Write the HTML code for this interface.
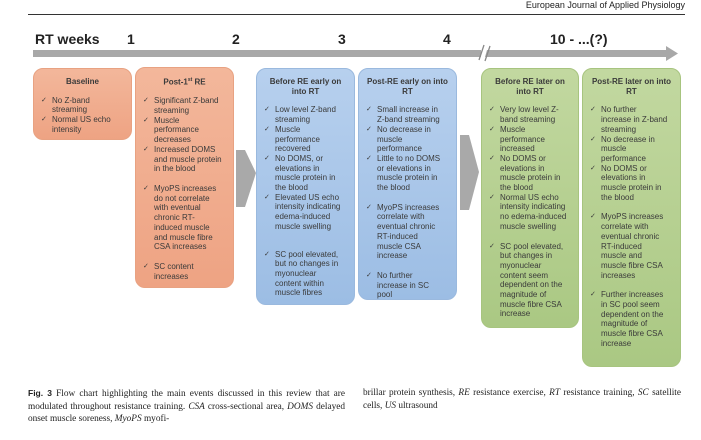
<!DOCTYPE html>
<html><head><style>
body{margin:0;width:701px;height:440px;background:#fff;position:relative;overflow:hidden;font-family:"Liberation Sans",sans-serif}
.a{position:absolute}
.box{position:absolute;border-radius:10px;box-sizing:border-box;padding:8px 11px 0 7px;font-size:8px;line-height:9.7px;color:#3a3a3a}
.o{background:linear-gradient(#f3b79b,#eea383);border:1px solid #e8a282}
.b{background:linear-gradient(#b7d0ee,#9cbde4);border:1px solid #9ab9de}
.g{background:linear-gradient(#c2d8a0,#aac883);border:1px solid #a7c47f}
.t{font-weight:bold;text-align:center;margin:0 -4px 9px 0}
ul{list-style:none;margin:0;padding:0}
li{padding-left:11px;position:relative}
li:before{content:"✓";position:absolute;left:0;font-size:7px}
.sp{margin-top:10px}
.cap{position:absolute;font-family:"Liberation Serif",serif;font-size:9.3px;line-height:12.5px;color:#222;text-align:justify}
.n{font-weight:bold;font-size:14px;position:absolute;top:31px;color:#222}
</style></head><body>
<div class="a" style="right:16px;top:0;font-size:9px;color:#222">European Journal of Applied Physiology</div>
<div class="a" style="left:28px;top:14px;width:657px;height:1px;background:#333"></div>
<div class="n" style="left:35px">RT weeks</div>
<div class="n" style="left:127px">1</div>
<div class="n" style="left:232px">2</div>
<div class="n" style="left:338px">3</div>
<div class="n" style="left:443px">4</div>
<div class="n" style="left:550px">10 - ...(?)</div>
<svg class="a" style="left:0;top:0" width="701" height="70">
<rect x="33" y="50" width="448" height="7" fill="#a8a8a8"/>
<polygon points="487,50 666,50 666,46 678,53.5 666,61 666,57 485,57" fill="#a8a8a8"/>
<line x1="479" y1="60" x2="484" y2="45" stroke="#888" stroke-width="1.3"/>
<line x1="485" y1="61" x2="490" y2="46" stroke="#888" stroke-width="1.3"/>
</svg>
<svg class="a" style="left:0;top:0" width="701" height="300">
<polygon points="236,150 245,150 256,173 245,207 236,207" fill="#a9a9a9"/>
<polygon points="460,135 469,135 479,172 469,210 460,210" fill="#a9a9a9"/>
</svg>
<div class="box o" style="left:33px;top:68px;width:99px;height:72px"><div class="t">Baseline</div><ul><li>No Z-band streaming</li><li>Normal US echo intensity</li></ul></div>
<div class="box o" style="left:135px;top:67px;width:99px;height:221px"><div class="t">Post-1<sup style="font-size:5px">st</sup> RE</div><ul><li>Significant Z-band streaming</li><li>Muscle performance decreases</li><li>Increased DOMS and muscle protein in the blood</li><li class="sp">MyoPS increases do not correlate with eventual chronic RT-induced muscle and muscle fibre CSA increases</li><li class="sp">SC content increases</li></ul></div>
<div class="box b" style="left:256px;top:68px;width:99px;height:237px"><div class="t">Before RE early on into RT</div><ul><li>Low level Z-band streaming</li><li>Muscle performance recovered</li><li>No DOMS, or elevations in muscle protein in the blood</li><li>Elevated US echo intensity indicating edema-induced muscle swelling</li><li style="margin-top:18px">SC pool elevated, but no changes in myonuclear content within muscle fibres</li></ul></div>
<div class="box b" style="left:358px;top:68px;width:99px;height:232px"><div class="t">Post-RE early on into RT</div><ul><li>Small increase in Z-band streaming</li><li>No decrease in muscle performance</li><li>Little to no DOMS or elevations in muscle protein in the blood</li><li class="sp">MyoPS increases correlate with eventual chronic RT-induced muscle CSA increase</li><li class="sp">No further increase in SC pool</li></ul></div>
<div class="box g" style="left:481px;top:68px;width:98px;height:260px"><div class="t">Before RE later on into RT</div><ul><li>Very low level Z-band streaming</li><li>Muscle performance increased</li><li>No DOMS or elevations in muscle protein in the blood</li><li>Normal US echo intensity indicating no edema-induced muscle swelling</li><li class="sp">SC pool elevated, but changes in myonuclear content seem dependent on the magnitude of muscle fibre CSA increase</li></ul></div>
<div class="box g" style="left:582px;top:68px;width:99px;height:299px"><div class="t">Post-RE later on into RT</div><ul><li>No further increase in Z-band streaming</li><li>No decrease in muscle performance</li><li>No DOMS or elevations in muscle protein in the blood</li><li class="sp">MyoPS increases correlate with eventual chronic RT-induced muscle and muscle fibre CSA increases</li><li class="sp">Further increases in SC pool seem dependent on the magnitude of muscle fibre CSA increase</li></ul></div>
<div class="cap" style="left:28px;top:387px;width:317px"><span style="font-family:'Liberation Sans',sans-serif;font-weight:bold;font-size:8.5px">Fig. 3</span> Flow chart highlighting the main events discussed in this review that are modulated throughout resistance training. <i>CSA</i> cross-sectional area, <i>DOMS</i> delayed onset muscle soreness, <i>MyoPS</i> myofi-</div>
<div class="cap" style="left:363px;top:387px;width:318px">brillar protein synthesis, <i>RE</i> resistance exercise, <i>RT</i> resistance training, <i>SC</i> satellite cells, <i>US</i> ultrasound</div>
</body></html>
